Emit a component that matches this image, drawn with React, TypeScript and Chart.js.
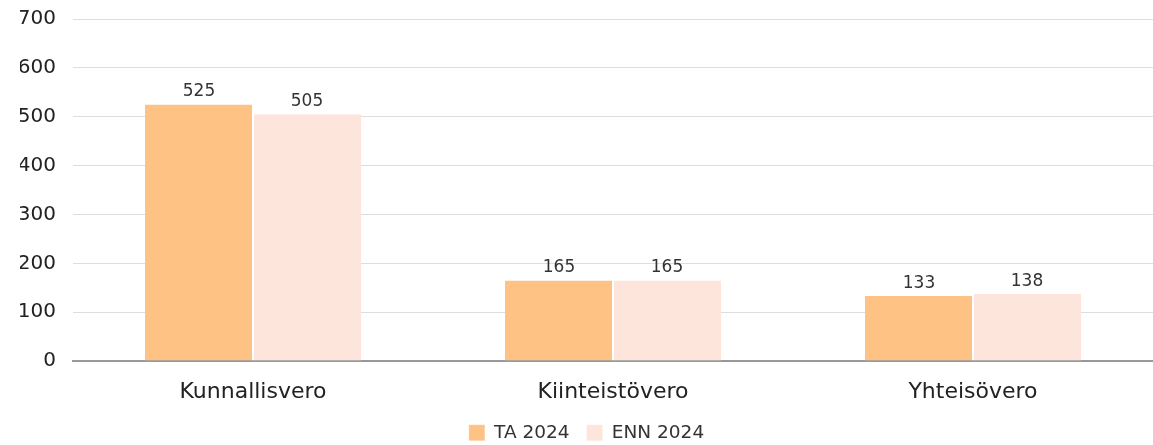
import React, { useEffect, useRef } from "react";
import { Chart, registerables } from "chart.js";

Chart.register(...registerables);

const categories = ["Kunnallisvero", "Kiinteistövero", "Yhteisövero"];
const seriesNames = ["TA 2024", "ENN 2024"];
const taValues = [525, 165, 133];
const ennValues = [505, 165, 138];
const yTicks = [0, 100, 200, 300, 400, 500, 600, 700];

const FONT = "'DejaVu Sans', sans-serif";

const labelPlugin = {
  id: "barLabels",
  afterDatasetsDraw(chart: any) {
    const ctx = chart.ctx;
    ctx.save();
    ctx.font = `17px ${FONT}`;
    ctx.fillStyle = "#333";
    ctx.textAlign = "center";
    ctx.textBaseline = "bottom";
    chart.data.datasets.forEach((ds: any, i: number) => {
      const meta = chart.getDatasetMeta(i);
      meta.data.forEach((bar: any, j: number) => {
        ctx.fillText(String(ds.data[j]), bar.x, bar.y - 4);
      });
    });
    ctx.restore();
  },
};

// keep wide horizontal spacing between legend items while the legend sits closer to the axis
const legendSpacingPlugin = {
  id: "legendSpacing",
  beforeLayout(chart: any) {
    const legend = chart.legend;
    if (legend && !legend.__patched) {
      const orig = legend.fit;
      legend.fit = function () {
        orig.call(this);
        this.height -= 16;
      };
      legend.__patched = true;
    }
  },
  afterLayout(chart: any) {
    const legend = chart.legend;
    if (legend) {
      legend.top -= 9;
      legend.bottom = chart.height;
      legend.height = legend.bottom - legend.top;
    }
  },
};

export default function App() {
  const ref = useRef<HTMLCanvasElement>(null);
  useEffect(() => {
    if (!ref.current) return;
    const chart = new Chart(ref.current, {
      type: "bar",
      data: {
        labels: categories,
        datasets: [
          {
            label: seriesNames[0],
            data: taValues,
            backgroundColor: "#FFC285",
            borderColor: "#ffffff",
            borderWidth: { left: 0, right: 1, top: 0, bottom: 0 },
            categoryPercentage: 0.6,
            barPercentage: 1,
          },
          {
            label: seriesNames[1],
            data: ennValues,
            backgroundColor: "#FDE5DB",
            borderColor: "#ffffff",
            borderWidth: { left: 1, right: 0, top: 0, bottom: 0 },
            categoryPercentage: 0.6,
            barPercentage: 1,
          },
        ],
      },
      options: {
        animation: false,
        responsive: false,
        layout: { padding: { top: 19, right: 0, left: 20, bottom: 0 } },
        plugins: {
          legend: {
            position: "bottom",
            labels: {
              boxWidth: 16,
              boxHeight: 16,
              color: "#333",
              font: { family: FONT, size: 18.5 },
              padding: 17,
            },
          },
          tooltip: { enabled: false },
        },
        scales: {
          x: {
            grid: { display: false },
            border: { display: true, color: "#999", width: 2 },
            ticks: { color: "#222", font: { family: FONT, size: 22 }, padding: 10 },
          },
          y: {
            min: 0,
            max: 700,
            afterBuildTicks: (axis: any) => {
              axis.ticks = yTicks.map((v) => ({ value: v }));
            },
            afterFit: (axis: any) => {
              axis.width = 53;
              axis.paddingTop = 0;
              axis.paddingBottom = 0;
            },
            grid: { color: "#ddd", lineWidth: 1, drawTicks: false },
            border: { display: false },
            ticks: { color: "#222", font: { family: FONT, size: 20 }, padding: 17 },
          },
        },
      },
      plugins: [labelPlugin, legendSpacingPlugin],
    });
    return () => chart.destroy();
  }, []);
  return (
    <div style={{ position: "fixed", left: 0, top: 0, width: 1153, height: 445 }}>
      <canvas ref={ref} width={1153} height={445} style={{ display: "block" }} />
    </div>
  );
}
